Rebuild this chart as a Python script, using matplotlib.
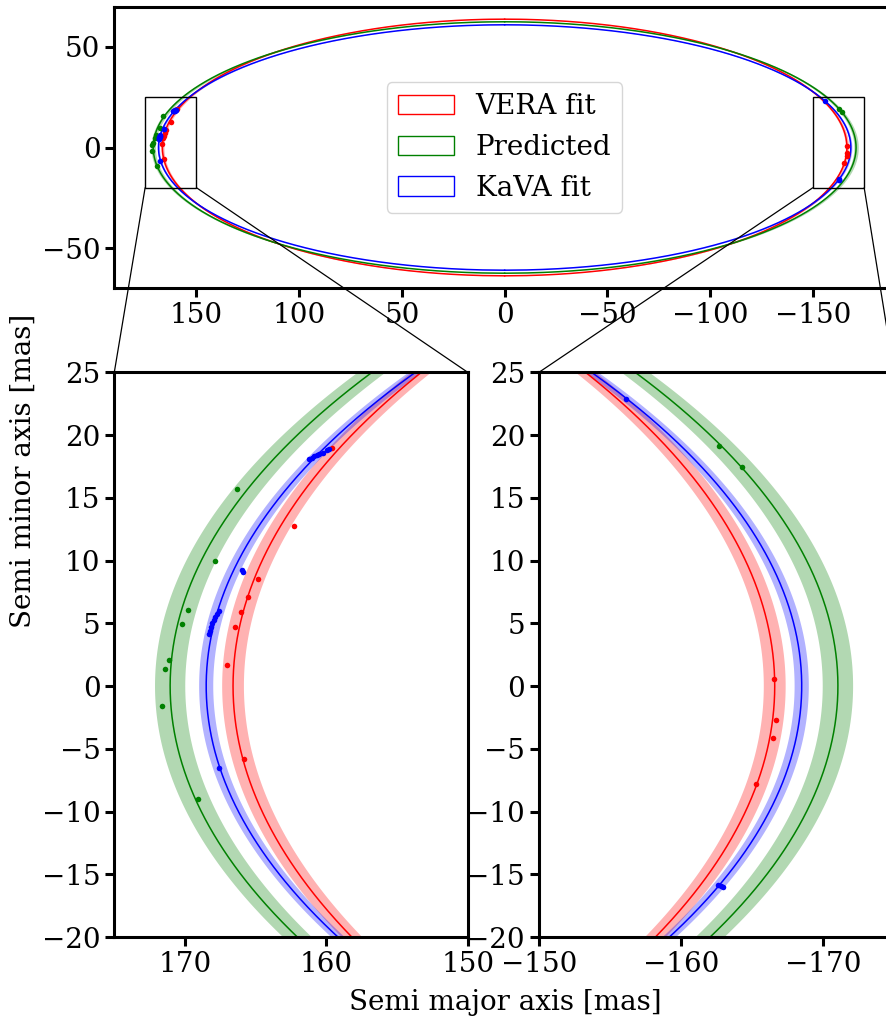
import numpy as np
import matplotlib
matplotlib.use("Agg")
import matplotlib.pyplot as plt
from matplotlib.patches import Rectangle, Patch, ConnectionPatch

plt.rcParams['font.family'] = 'DejaVu Serif'
plt.rcParams['font.size'] = 20
plt.rcParams['axes.linewidth'] = 2.2
plt.rcParams['xtick.major.width'] = 2.2
plt.rcParams['ytick.major.width'] = 2.2
plt.rcParams['xtick.major.size'] = 6.5
plt.rcParams['ytick.major.size'] = 6.5

# fitted ellipses (mas)
labels = ['VERA fit', 'Predicted', 'KaVA fit']
colors = ['red', 'green', 'blue']
semi_major = [166.6, 171.05, 168.5]
semi_minor = [63.8, 62.5, 61.0]
major_err = [0.77, 1.07, 0.5]

# measured positions
vera_x = [159.63, 162.31, 164.86, 165.52, 166.04, 166.49, 167.01, 165.80,
          -166.53, -166.71, -166.48, -165.31]
vera_y = [18.94, 12.75, 8.56, 7.12, 5.90, 4.68, 1.70, -5.81,
          0.54, -2.73, -4.11, -7.78]
pred_x = [166.32, 167.86, 169.81, 170.21, 171.15, 171.41, 171.60, 169.06,
          -162.68, -164.27]
pred_y = [15.70, 9.94, 6.03, 4.94, 2.10, 1.33, -1.62, -9.03,
          19.15, 17.48]
kava_x = [161.21, 161.02, 160.85, 160.69, 160.55, 160.26, 159.98, 159.79,
          165.97, 165.87,
          168.28, 168.23, 168.16, 168.09, 167.97, 167.86, 167.76, 167.62,
          167.57,
          -156.13, -162.63, -162.79, -162.93]
kava_y = [18.07, 18.20, 18.30, 18.38, 18.46, 18.60, 18.78, 18.86,
          9.25, 9.11,
          4.15, 4.41, 4.73, 5.00, 5.26, 5.53, 5.71, 6.01,
          -6.50,
          22.90, -15.88, -15.96, -16.04]
points_x = [vera_x, pred_x, kava_x]
points_y = [vera_y, pred_y, kava_y]


def draw(ax):
    for a, b, d, c, px, py in zip(semi_major, semi_minor, major_err, colors,
                                  points_x, points_y):
        y = np.linspace(-b, b, 2001)
        s = np.sqrt(np.clip(1 - (y / b) ** 2, 0, None))
        for sign in (1, -1):
            ax.fill_betweenx(y, sign * (a - d) * s, sign * (a + d) * s,
                             color=c, alpha=0.3, lw=0, zorder=1)
            ax.plot(sign * a * s, y, color=c, lw=1.1, zorder=2)
        ax.scatter(px, py, color=c, s=16, zorder=3, lw=0)


W, H = 887, 1024
fig = plt.figure(figsize=(W / 100, H / 100), dpi=100)


def box(l, r, t, b):
    return [l / W, 1 - b / H, (r - l) / W, (b - t) / H]


ax_top = fig.add_axes(box(114.3, 895, 6.7, 288.3))
ax_l = fig.add_axes(box(114.3, 467.7, 372.3, 937))
ax_r = fig.add_axes(box(539, 894, 372.3, 937))

draw(ax_top)
ax_top.set_xlim(190, -190)
ax_top.set_ylim(-70, 70)
ax_top.set_xticks([150, 100, 50, 0, -50, -100, -150])
ax_top.set_yticks([-50, 0, 50])
ax_top.add_patch(Rectangle((150, -20), 25, 45, fill=False, ec='k', lw=1, zorder=4))
ax_top.add_patch(Rectangle((-175, -20), 25, 45, fill=False, ec='k', lw=1, zorder=4))
handles = [Patch(facecolor='none', edgecolor=c, label=l) for c, l in zip(colors, labels)]
ax_top.legend(handles=handles, loc='center', fontsize=20)

draw(ax_l)
ax_l.set_xlim(175, 150)
ax_l.set_ylim(-20, 25)
ax_l.set_xticks([170, 160, 150])
ax_l.set_yticks(np.arange(-20, 26, 5))

draw(ax_r)
ax_r.set_xlim(-150, -175)
ax_r.set_ylim(-20, 25)
ax_r.set_xticks([-150, -160, -170])
ax_r.set_yticks(np.arange(-20, 26, 5))

# zoom connectors
for xa, xb, axb in [(175, 175, ax_l), (150, 150, ax_l), (-150, -150, ax_r), (-175, -175, ax_r)]:
    con = ConnectionPatch(xyA=(xa, -20), coordsA=ax_top.transData,
                          xyB=(xb, 25), coordsB=axb.transData,
                          color='k', lw=0.9)
    fig.add_artist(con)

fig.text(23 / W, 1 - 471 / H, 'Semi minor axis [mas]', rotation=90,
         ha='center', va='center')
fig.text(505 / W, 1 - 1003 / H, 'Semi major axis [mas]',
         ha='center', va='center')

fig.savefig('out.png', dpi=100)
